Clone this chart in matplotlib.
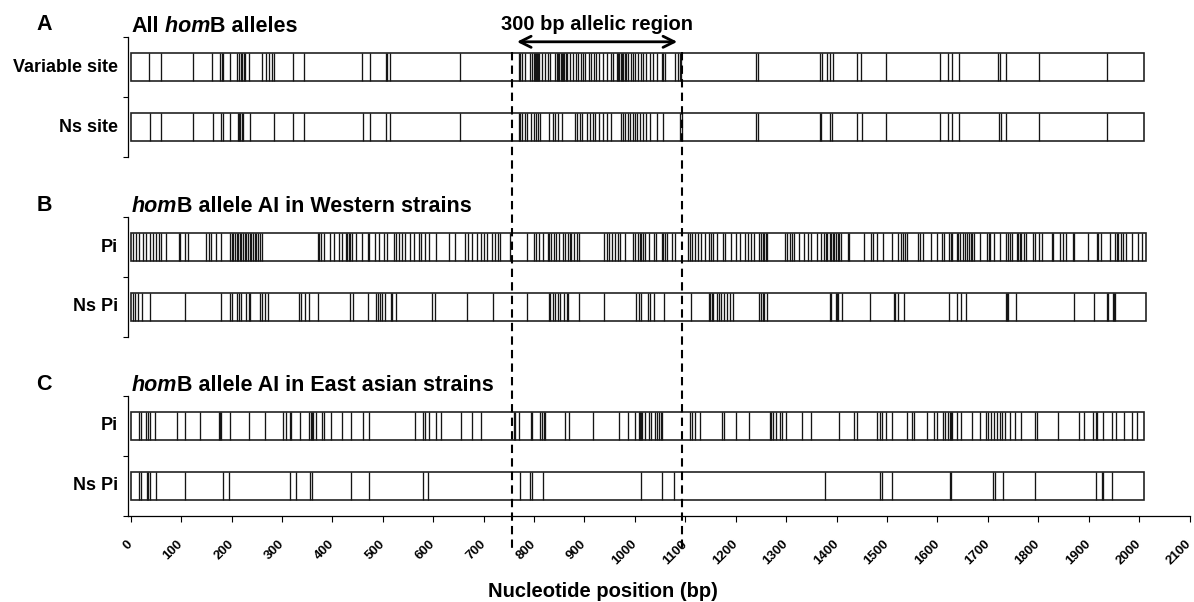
import matplotlib
matplotlib.use("Agg")
import matplotlib.pyplot as plt
from matplotlib import transforms
from matplotlib.lines import Line2D

plt.rcParams['font.family'] = ['Liberation Sans', 'DejaVu Sans']
plt.rcParams['font.weight'] = 'bold'

# polymorphic site positions (bp)
A_var = [37, 60, 123, 162, 178, 181, 183, 196, 211, 214, 218, 220, 224, 227, 234, 261, 268, 274, 280, 284,
         321, 343, 459, 474, 506, 509, 514, 654, 770, 773, 777, 783, 791, 796, 799, 801, 803, 805, 807, 809,
         816, 821, 828, 832, 842, 845, 847, 850, 853, 855, 858, 860, 863, 865, 872, 878, 883, 888, 893, 898,
         901, 908, 913, 918, 922, 928, 936, 944, 952, 957, 964, 967, 969, 972, 974, 977, 980, 982, 987, 992,
         997, 1001, 1007, 1012, 1017, 1023, 1030, 1036, 1043, 1053, 1056, 1059, 1079, 1085, 1089, 1092,
         1241, 1245, 1368, 1372, 1382, 1386, 1392, 1440, 1448, 1498, 1605, 1621, 1629, 1643, 1720, 1725,
         1736, 1802, 1936]
A_ns = [38, 61, 124, 163, 180, 183, 196, 213, 215, 217, 220, 223, 236, 285, 321, 343, 460, 475, 507, 514,
        654, 770, 773, 777, 783, 786, 793, 799, 803, 808, 812, 829, 837, 842, 847, 855, 882, 886, 891, 896,
        905, 911, 916, 921, 928, 936, 944, 952, 973, 977, 980, 986, 990, 997, 1001, 1005, 1010, 1017, 1023,
        1030, 1043, 1056, 1089, 1094, 1241, 1245, 1368, 1370, 1386, 1391, 1440, 1450, 1498, 1606, 1621,
        1629, 1643, 1722, 1726, 1736, 1802, 1937]
B_pi = [5, 11, 16, 25, 30, 38, 45, 50, 57, 61, 70, 95, 98, 107, 113, 150, 155, 160, 170, 180, 196, 200, 203,
        206, 210, 213, 216, 219, 223, 226, 229, 233, 236, 239, 242, 246, 249, 252, 256, 261, 372, 374, 378,
        384, 395, 404, 414, 420, 426, 429, 432, 435, 439, 447, 459, 470, 473, 485, 493, 503, 509, 522, 527,
        532, 538, 544, 554, 562, 571, 575, 584, 592, 605, 631, 644, 664, 669, 677, 687, 694, 700, 707, 717,
        723, 729, 733, 753, 786, 799, 803, 809, 817, 828, 830, 834, 839, 843, 849, 857, 862, 868, 871, 874,
        880, 885, 890, 938, 944, 949, 955, 961, 966, 971, 980, 997, 1000, 1007, 1010, 1013, 1017, 1020,
        1027, 1038, 1041, 1053, 1056, 1060, 1063, 1073, 1079, 1106, 1109, 1114, 1119, 1125, 1132, 1140,
        1146, 1150, 1155, 1162, 1175, 1178, 1191, 1201, 1208, 1218, 1224, 1231, 1236, 1247, 1251, 1254,
        1257, 1260, 1262, 1297, 1302, 1307, 1311, 1316, 1326, 1336, 1343, 1349, 1361, 1369, 1376, 1379,
        1382, 1386, 1389, 1392, 1395, 1399, 1402, 1405, 1409, 1422, 1425, 1455, 1469, 1473, 1480, 1493,
        1509, 1521, 1527, 1531, 1535, 1539, 1562, 1565, 1572, 1587, 1600, 1610, 1613, 1623, 1626, 1629,
        1638, 1641, 1645, 1651, 1654, 1658, 1662, 1666, 1669, 1672, 1685, 1699, 1702, 1705, 1712, 1724,
        1737, 1740, 1743, 1748, 1757, 1760, 1763, 1766, 1771, 1776, 1790, 1794, 1801, 1807, 1827, 1830,
        1844, 1849, 1855, 1869, 1871, 1898, 1916, 1919, 1924, 1942, 1952, 1956, 1959, 1965, 1969, 1975,
        1985, 1998, 2005]
B_ns = [4, 9, 15, 22, 38, 107, 180, 196, 200, 211, 215, 219, 229, 235, 237, 256, 261, 266, 272, 333, 338,
        345, 354, 371, 435, 440, 470, 486, 490, 494, 499, 504, 516, 519, 526, 597, 604, 667, 718, 786, 829,
        832, 837, 841, 847, 852, 859, 865, 868, 890, 938, 1003, 1008, 1013, 1025, 1030, 1038, 1058, 1112,
        1146, 1148, 1152, 1155, 1162, 1166, 1170, 1177, 1183, 1188, 1195, 1247, 1251, 1254, 1257, 1262,
        1386, 1389, 1399, 1401, 1403, 1410, 1467, 1513, 1515, 1521, 1533, 1623, 1638, 1647, 1656, 1737,
        1739, 1741, 1755, 1871, 1911, 1936, 1939, 1948, 1950, 1952]
C_pi = [17, 20, 30, 35, 38, 48, 91, 107, 138, 175, 178, 180, 196, 235, 266, 303, 308, 315, 318, 335, 354,
        357, 360, 362, 368, 380, 384, 397, 419, 437, 460, 473, 564, 580, 584, 592, 606, 615, 656, 676, 694,
        760, 763, 771, 793, 795, 812, 816, 819, 822, 861, 870, 916, 969, 986, 1000, 1008, 1011, 1013, 1015,
        1020, 1027, 1032, 1040, 1043, 1048, 1052, 1054, 1109, 1114, 1119, 1129, 1173, 1177, 1201, 1226,
        1267, 1270, 1274, 1280, 1287, 1291, 1300, 1331, 1349, 1405, 1435, 1440, 1481, 1486, 1491, 1498,
        1509, 1539, 1550, 1554, 1580, 1593, 1600, 1612, 1616, 1621, 1624, 1627, 1629, 1639, 1646, 1669,
        1685, 1697, 1700, 1706, 1712, 1718, 1724, 1728, 1735, 1743, 1753, 1766, 1794, 1797, 1840, 1880,
        1890, 1908, 1915, 1917, 1928, 1946, 1954, 1970, 1985, 1995]
C_ns = [17, 20, 32, 35, 38, 50, 107, 183, 195, 316, 328, 356, 360, 437, 473, 580, 590, 772, 791, 795, 817,
        1013, 1053, 1077, 1378, 1486, 1491, 1509, 1625, 1627, 1710, 1715, 1730, 1794, 1915, 1926, 1928, 1946]

gene_len = [2010, 2013, 2010]
region = [756, 1094]        # dashed boundaries of the allelic region
arrow_span = [766, 1084]
ticks = list(range(0, 2101, 100))

letters = ['A', 'B', 'C']
titles = [[('All', 'normal'), (' hom', 'italic'), ('B alleles', 'normal')],
          [('hom', 'italic'), ('B allele AI in Western strains', 'normal')],
          [('hom', 'italic'), ('B allele AI in East asian strains', 'normal')]]
row_labels = [['Variable site', 'Ns site'], ['Pi', 'Ns Pi'], ['Pi', 'Ns Pi']]
row_data = [[A_var, A_ns], [B_pi, B_ns], [C_pi, C_ns]]

W, H = 1194, 602
fig = plt.figure(figsize=(W / 100, H / 100), dpi=100)
left = 127.7 / W
width = (1189.5 - 127.7) / W
tops = [37, 217, 396]       # pixel rows of the panel tops
panel_h = 120

axes = []
for i in range(3):
    ax = fig.add_axes([left, 1 - (tops[i] + panel_h) / H, width, panel_h / H])
    axes.append(ax)
    ax.set_xlim(-6, 2100)
    ax.set_ylim(0, 2)
    for s in ['top', 'right', 'bottom']:
        ax.spines[s].set_visible(False)
    ax.spines['left'].set_linewidth(0.9)
    ax.set_yticks([0, 1, 2])
    ax.set_yticklabels([])
    ax.tick_params(axis='y', direction='out', length=3.5, width=0.8)

    centers = [1.5, 0.5]
    ax.barh(centers, [gene_len[i]] * 2, left=0, height=0.48, color='white',
            edgecolor='#222222', linewidth=1.2, zorder=1)
    for yc, sites, lab in zip(centers, row_data[i], row_labels[i]):
        ax.vlines(sites, yc - 0.24, yc + 0.24, colors='#151515', linewidth=0.95, zorder=2)
        ax.text(-0.009, yc, lab, transform=ax.get_yaxis_transform(), ha='right', va='center',
                fontsize=13)

    # panel letter and title
    fig.text(44 / W, 1 - (tops[i] - 12) / H, letters[i], fontsize=15.5, ha='center', va='center')
    prev = fig.text(131.5 / W, 1 - (tops[i] - 5) / H, titles[i][0][0], fontsize=15.5,
                    style=titles[i][0][1], va='baseline', ha='left')
    for txt, st in titles[i][1:]:
        prev = ax.annotate(txt, xy=(1, 0), xycoords=prev, va='bottom', ha='left',
                           fontsize=15.5, style=st, annotation_clip=False)

    if i < 2:
        ax.set_xticks([])

axC = axes[2]
axC.spines['bottom'].set_visible(True)
axC.spines['bottom'].set_linewidth(0.9)
axC.set_xticks(ticks)
axC.set_xticklabels([str(t) for t in ticks], fontsize=9.5)
axC.tick_params(axis='x', direction='out', length=4, width=0.8, pad=15)
plt.setp(axC.get_xticklabels(), rotation=45, ha='right', va='center', rotation_mode='anchor')

# 300 bp arrow and label
axA = axes[0]
axA.annotate('', xy=(arrow_span[0], 1.92), xytext=(arrow_span[1], 1.92),
             arrowprops=dict(arrowstyle='<->', lw=2, color='black', mutation_scale=20,
                             shrinkA=0, shrinkB=0), annotation_clip=False)
axA.text(sum(arrow_span) / 2, 2.12, '300 bp allelic region', ha='center', va='baseline',
         fontsize=14.5, clip_on=False)

# dashed lines spanning all panels
trans = transforms.blended_transform_factory(axC.transData, fig.transFigure)
for x in region:
    fig.add_artist(Line2D([x, x], [1 - 52 / H, 1 - 552 / H], transform=trans, color='black',
                          linewidth=1.5, linestyle=(0, (4, 2.5))))

fig.text(602.7 / W, 1 - 597 / H, 'Nucleotide position (bp)', ha='center', va='baseline',
         fontsize=14.5)

fig.savefig('out.png', dpi=100)
